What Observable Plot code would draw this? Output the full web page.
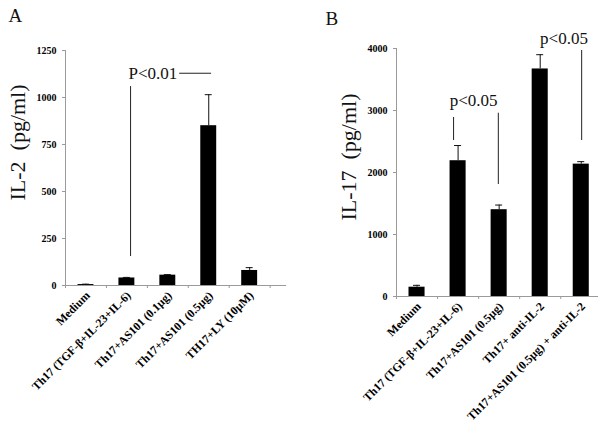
<!DOCTYPE html>
<html><head><meta charset="utf-8">
<script src="https://cdn.jsdelivr.net/npm/d3@7"></script>
<script src="https://cdn.jsdelivr.net/npm/@observablehq/plot@0.6"></script>
<style>
body{margin:0;background:#fff;}
#wrap{display:flex;width:604px;height:422px;}
</style></head><body><div id="wrap"></div>
<script>
// Panel A
const catsA = ["Medium", "Th17 (TGF-β+IL-23+IL-6)", "Th17+AS101 (0.1µg)", "Th17+AS101 (0.5µg)", "TH17+LY (10µM)"];
const valsA = [5, 40, 55, 850, 80];
const errsA = [2, 3, 3, 165, 15];
const yTicksA = [0, 250, 500, 750, 1000, 1250];
const vLinesA = [{x: 1.59, y1: 154, y2: 1058}];
const hLinesA = [{x1: 2.79, x2: 3.57, y: 1129}];
const textsA = [{x: 1.54, y: 1129, t: "P<0.01"}];

// Panel B
const catsB = ["Medium", "Th17 (TGF-β+IL-23+IL-6)", "Th17+AS101 (0.5µg)", "Th17+ anti-IL-2", "Th17+AS101 (0.5µg) + anti-IL-2"];
const valsB = [150, 2190, 1400, 3670, 2135];
const errsB = [30, 245, 75, 230, 40];
const yTicksB = [0, 1000, 2000, 3000, 4000];
const vLinesB = [{x: 1.39, y1: 2516, y2: 2887}, {x: 2.48, y1: 1806, y2: 2956}, {x: 4.51, y1: 2516, y2: 3968}];
const textsB = [{x: 1.88, y: 3161, t: "p<0.05"}, {x: 4.08, y: 4161, t: "p<0.05"}];

function pickFont(cands) {
  const ctx = document.createElement("canvas").getContext("2d");
  const sample = "Th17 (TGF-β+IL-23) mwWi 0123";
  ctx.font = "40px monospace"; const mono = ctx.measureText(sample).width;
  ctx.font = "40px sans-serif"; const sans = ctx.measureText(sample).width;
  for (const f of cands) {
    ctx.font = `40px "${f}", monospace`; const a = ctx.measureText(sample).width;
    ctx.font = `40px "${f}", sans-serif`; const b = ctx.measureText(sample).width;
    if (a !== mono || b !== sans) return `"${f}", serif`;
  }
  return "serif";
}
const SERIF = pickFont(["Liberation Serif", "Times New Roman", "Tinos", "Nimbus Roman", "Times", "DejaVu Serif"]);
const AXIS = "#9a9a9a";

function panel(o) {
  const data = o.cats.map((c, i) => ({i, c, v: o.vals[i], e: o.errs[i]}));
  const n = o.cats.length;
  const bounds = d3.range(0, Math.min(n, Math.floor(o.xmax)) + 1);
  const centers = d3.range(n).map(i => i + 0.5);
  return Plot.plot({
    width: 302, height: 422,
    marginLeft: o.ml, marginRight: o.mr, marginTop: o.mt, marginBottom: o.mb,
    style: {fontFamily: SERIF, background: "white", overflow: "visible"},
    x: {type: "linear", domain: [0, o.xmax]},
    y: {domain: o.ydomain},
    marks: [
      Plot.ruleY([0], {stroke: AXIS}),
      Plot.ruleX([0], {stroke: AXIS}),
      Plot.axisY({ticks: o.yTicks, tickSize: 3, tickPadding: 6, stroke: AXIS, fill: "black", fontWeight: "bold", fontSize: 10, label: null, tickFormat: d => String(d)}),
      Plot.axisX({ticks: bounds, tickSize: 3, stroke: AXIS, tickFormat: () => "", label: null}),
      Plot.axisX({ticks: centers, tickSize: 0, tickPadding: 8, dx: 2, tickRotate: -45, fill: "black", fontWeight: "bold", fontSize: 11.7, label: null, tickFormat: d => o.cats[Math.floor(d)]}),
      Plot.rectY(data, {x: "i", interval: 1, y: "v", insetLeft: 12.5, insetRight: 12.5, fill: "black"}),
      Plot.ruleX(data, {x: d => d.i + 0.5, y1: "v", y2: d => d.v + d.e, stroke: "#111", strokeWidth: 1}),
      Plot.ruleY(data, {x1: d => d.i + 0.5, x2: d => d.i + 0.5, y: d => d.v + d.e, insetLeft: -3.5, insetRight: -3.5, stroke: "#111", strokeWidth: 1}),
      Plot.ruleX(o.vLines, {x: "x", y1: "y1", y2: "y2", stroke: "#222", strokeWidth: 1}),
      Plot.ruleY(o.hLines || [], {x1: "x1", x2: "x2", y: "y", stroke: "#222", strokeWidth: 1}),
      Plot.text(o.texts, {x: "x", y: "y", text: "t", textAnchor: o.textAnchor, fontSize: 17, fill: "#111"}),
      Plot.text([o.ylabel], {frameAnchor: "left", y: () => o.ylabelY, text: d => d, rotate: -90, textAnchor: "start", lineAnchor: "middle", dx: o.ylabelDx, fontSize: 22, fill: "#111"}),
      Plot.text([o.letter], {frameAnchor: "top-left", text: d => d, dx: o.letterDx, dy: o.letterDy, textAnchor: "start", fontSize: 19, fill: "#111"})
    ]
  });
}

const wrap = document.getElementById("wrap");
wrap.append(panel({
  cats: catsA, vals: valsA, errs: errsA, yTicks: yTicksA, ydomain: [0, 1250], xmax: 5.4,
  ml: 65, mr: 16, mt: 50, mb: 137,
  vLines: vLinesA, hLines: hLinesA, texts: textsA, textAnchor: "start",
  ylabel: "IL-2  (pg/ml)", ylabelY: 452, ylabelDx: -48,
  letter: "A", letterDx: -57, letterDy: -42
}));
wrap.append(panel({
  cats: catsB, vals: valsB, errs: errsB, yTicks: yTicksB, ydomain: [0, 4000], xmax: 4.92,
  ml: 94, mr: 6, mt: 48, mb: 126,
  vLines: vLinesB, hLines: [], texts: textsB, textAnchor: "middle",
  ylabel: "IL-17  (pg/ml)", ylabelY: 1224, ylabelDx: -48,
  letter: "B", letterDx: -71, letterDy: -37
}));
</script>
</body></html>
